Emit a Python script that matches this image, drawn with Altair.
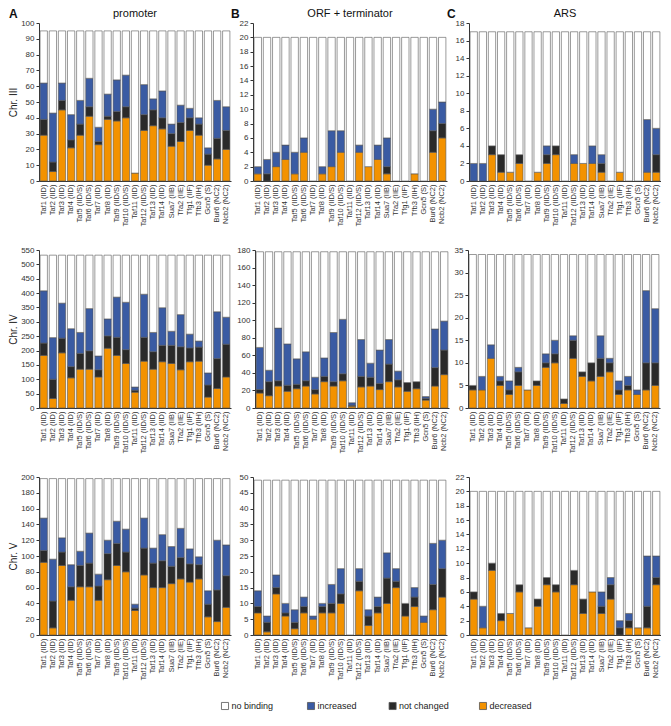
import altair as alt
import pandas as pd

cats = ["Taf1 (IID)", "Taf2 (IID)", "Taf3 (IID)", "Taf4 (IID)", "Taf5 (IID/S)",
        "Taf6 (IID/S)", "Taf7 (IID)", "Taf8 (IID)", "Taf9 (IID/S)", "Taf10 (IID/S)",
        "Taf11 (IID)", "Taf12 (IID/S)", "Taf13 (IID)", "Taf14 (IID)", "Sua7 (IIB)",
        "Tfa2 (IIE)", "Tfg1 (IIF)", "Tfb3 (IIH)", "Gcn5 (S)", "Bur6 (NC2)", "Ncb2 (NC2)"]

statuses = ["no binding", "increased", "not changed", "decreased"]
colors = ["#FFFFFF", "#3A5BA3", "#2A2A2A", "#F39200"]

# cumulative tops: decreased, +not changed, +increased; remainder = no binding
prom_III_dec = [29, 6, 45, 21, 29, 41, 23, 39, 38, 40, 5, 32, 35, 33, 22, 25, 32, 29, 10, 14, 20]
prom_III_nc = [39, 12, 51, 26, 36, 47, 25, 41, 44, 47, 5, 42, 45, 40, 30, 37, 40, 36, 17, 27, 32]
prom_III_inc = [62, 43, 62, 42, 51, 65, 34, 55, 64, 67, 5, 61, 52, 57, 36, 48, 46, 40, 21, 51, 47]
prom_III_total = 95

orf_III_dec = [1, 0, 2, 3, 1, 4, 0, 1, 2, 4, 0, 4, 2, 3, 1, 0, 0, 1, 0, 4, 6]
orf_III_nc = [1, 1, 2, 3, 1, 4, 0, 1, 2, 4, 0, 4, 2, 3, 2, 0, 0, 1, 0, 7, 8]
orf_III_inc = [2, 3, 4, 5, 4, 6, 0, 2, 7, 7, 0, 5, 2, 5, 6, 0, 0, 1, 0, 10, 11]
orf_III_total = 20

ars_III_dec = [0, 0, 3, 1, 1, 2, 0, 1, 2, 3, 0, 2, 2, 2, 1, 0, 1, 0, 0, 1, 1]
ars_III_nc = [0, 0, 4, 3, 1, 3, 0, 1, 3, 4, 0, 2, 2, 2, 2, 0, 1, 0, 0, 1, 3]
ars_III_inc = [2, 2, 4, 3, 1, 3, 0, 1, 4, 4, 0, 3, 2, 4, 3, 0, 1, 0, 0, 7, 6]
ars_III_total = 17

prom_IV_dec = [183, 33, 192, 105, 135, 135, 108, 208, 183, 155, 55, 163, 135, 161, 155, 133, 161, 163, 38, 68, 108]
prom_IV_nc = [226, 100, 243, 144, 190, 199, 133, 251, 246, 203, 62, 246, 196, 218, 218, 213, 209, 212, 80, 172, 222]
prom_IV_inc = [408, 245, 365, 276, 263, 346, 181, 310, 386, 368, 73, 396, 263, 349, 267, 325, 257, 233, 122, 335, 316]
prom_IV_total = 532

orf_IV_dec = [17, 14, 25, 19, 22, 25, 16, 30, 25, 31, 2, 24, 25, 21, 30, 24, 19, 22, 9, 25, 38]
orf_IV_nc = [21, 30, 31, 26, 27, 31, 21, 36, 30, 39, 3, 36, 35, 28, 50, 32, 29, 30, 11, 46, 66]
orf_IV_inc = [69, 43, 91, 73, 56, 64, 35, 57, 86, 101, 6, 78, 51, 66, 78, 42, 29, 30, 13, 90, 99]
orf_IV_total = 178

ars_IV_dec = [4, 4, 11, 5, 3, 5, 4, 5, 9, 10, 1, 11, 7, 6, 7, 8, 3, 4, 3, 4, 5]
ars_IV_nc = [5, 4, 11, 6, 4, 8, 4, 6, 10, 12, 2, 15, 8, 10, 11, 10, 4, 5, 3, 10, 10]
ars_IV_inc = [5, 7, 14, 7, 6, 9, 4, 6, 12, 15, 2, 16, 8, 10, 16, 11, 6, 7, 4, 26, 22]
ars_IV_total = 34

prom_V_dec = [92, 9, 88, 44, 61, 61, 44, 70, 88, 80, 31, 76, 60, 60, 65, 71, 67, 71, 23, 17, 35]
prom_V_nc = [107, 43, 105, 61, 88, 91, 62, 103, 116, 105, 34, 110, 91, 94, 87, 98, 90, 89, 39, 57, 75]
prom_V_inc = [148, 96, 123, 89, 106, 129, 77, 120, 144, 134, 39, 148, 110, 127, 112, 135, 109, 99, 56, 120, 114]
prom_V_total = 198

orf_V_dec = [7, 1, 13, 6, 2, 7, 5, 7, 7, 10, 0, 14, 3, 7, 10, 15, 6, 9, 4, 8, 12]
orf_V_nc = [9, 4, 15, 7, 4, 9, 5, 9, 10, 13, 0, 17, 6, 9, 18, 17, 10, 12, 4, 16, 21]
orf_V_inc = [14, 6, 19, 10, 8, 12, 6, 10, 16, 21, 0, 21, 8, 12, 26, 21, 10, 15, 6, 29, 30]
orf_V_total = 49

ars_V_dec = [5, 1, 9, 2, 3, 6, 1, 4, 7, 6, 0, 7, 3, 6, 3, 5, 0, 1, 1, 1, 7]
ars_V_nc = [6, 1, 10, 3, 3, 7, 1, 5, 8, 7, 0, 9, 5, 6, 4, 7, 1, 2, 1, 4, 8]
ars_V_inc = [6, 4, 10, 3, 3, 7, 1, 5, 8, 7, 0, 9, 5, 6, 6, 8, 2, 3, 1, 11, 11]
ars_V_total = 20

FONT = "Liberation Sans"
WA, WB, WC, H = 192, 194, 192, 158
color_scale = alt.Scale(domain=statuses, range=colors)


def panel(dec, nc, inc, total, ymax, step, width, ytitle=None, title=None, letter=None, letter_x=-22):
    rows = []
    for i, c in enumerate(cats):
        segs = [("decreased", 0, dec[i]), ("not changed", dec[i], nc[i]),
                ("increased", nc[i], inc[i]), ("no binding", inc[i], total)]
        for s, a, b in segs:
            if b > a:
                rows.append({"cat": c, "status": s, "y0": a, "y1": b})
    df = pd.DataFrame(rows)
    ticks = list(range(0, ymax + 1, step))
    yaxis = alt.Axis(values=ticks, title=ytitle if ytitle else None, titleFontSize=10,
                     titleFontWeight="normal", titlePadding=2, labelFontSize=8,
                     tickSize=3, labelPadding=2)
    bars = alt.Chart(df).mark_bar(stroke="#555555", strokeWidth=0.6).encode(
        x=alt.X("cat:N", sort=cats, title=None,
                scale=alt.Scale(paddingInner=0.2, paddingOuter=0.12),
                axis=alt.Axis(labelAngle=-90, labelFontSize=7.5, ticks=False,
                              labelPadding=3, labelColor="#333333")),
        y=alt.Y("y0:Q", scale=alt.Scale(domain=[0, ymax], nice=False), axis=yaxis),
        y2="y1:Q",
        color=alt.Color("status:N", scale=color_scale, legend=None),
    )
    layers = [bars]
    if title:
        tt = alt.Chart(pd.DataFrame({"t": [title]})).mark_text(
            fontSize=11, align="center", baseline="middle", font=FONT, color="#111111"
        ).encode(text="t:N", x=alt.value(width / 2), y=alt.value(-9))
        layers.append(tt)
    if letter:
        lt = alt.Chart(pd.DataFrame({"t": [letter]})).mark_text(
            fontWeight="bold", fontSize=12, align="left", baseline="middle", font=FONT,
            color="#111111"
        ).encode(text="t:N", x=alt.value(letter_x), y=alt.value(-9))
        layers.append(lt)
    return alt.layer(*layers).properties(width=width, height=H)


row1 = alt.hconcat(
    panel(prom_III_dec, prom_III_nc, prom_III_inc, prom_III_total, 100, 10, WA, "Chr. III", "promoter", "A", -30),
    panel(orf_III_dec, orf_III_nc, orf_III_inc, orf_III_total, 22, 2, WB, None, "ORF + terminator", "B"),
    panel(ars_III_dec, ars_III_nc, ars_III_inc, ars_III_total, 18, 2, WC, None, "ARS", "C"),
    spacing=0,
)
row2 = alt.hconcat(
    panel(prom_IV_dec, prom_IV_nc, prom_IV_inc, prom_IV_total, 550, 50, WA, "Chr. IV"),
    panel(orf_IV_dec, orf_IV_nc, orf_IV_inc, orf_IV_total, 180, 20, WB),
    panel(ars_IV_dec, ars_IV_nc, ars_IV_inc, ars_IV_total, 35, 5, WC),
    spacing=5,
)
row3 = alt.hconcat(
    panel(prom_V_dec, prom_V_nc, prom_V_inc, prom_V_total, 200, 20, WA, "Chr. V"),
    panel(orf_V_dec, orf_V_nc, orf_V_inc, orf_V_total, 50, 5, WB),
    panel(ars_V_dec, ars_V_nc, ars_V_inc, ars_V_total, 22, 2, WC),
    spacing=8,
)

# legend row: entries laid out left to right from the label lengths
pos = []
x = 186
for s in statuses:
    pos.append(x)
    x += 42 + 4.4 * len(s)
leg_df = pd.DataFrame({"status": statuses, "px": pos, "tx": [p + 6.5 for p in pos]})
leg_sq = alt.Chart(leg_df).mark_square(size=50, stroke="#555555", strokeWidth=0.8, opacity=1).encode(
    x=alt.X("px:Q", scale=None), y=alt.value(6),
    color=alt.Color("status:N", scale=color_scale, legend=None),
)
leg_tx = alt.Chart(leg_df).mark_text(align="left", baseline="middle", fontSize=9, font=FONT,
                                     color="#222222").encode(
    x=alt.X("tx:Q", scale=None), y=alt.value(6), text="status:N")
legend_row = alt.layer(leg_sq, leg_tx).properties(width=600, height=12)

chart = alt.vconcat(row1, row2, row3, legend_row, spacing=19).properties(
    padding={"left": 0, "top": 0, "right": 0, "bottom": 0}
).configure_view(stroke=None).configure_axis(
    grid=False, domainColor="#333333", tickColor="#333333", labelColor="#333333",
    labelFont=FONT, titleFont=FONT, titleColor="#222222"
)

chart.save("out.html", embed_options={"renderer": "svg", "actions": False})
